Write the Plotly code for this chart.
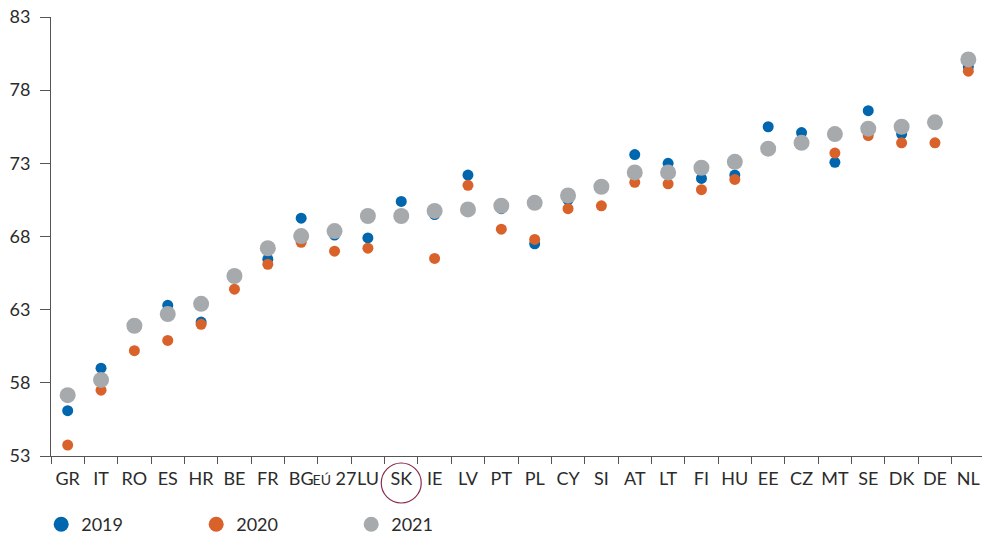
import plotly.graph_objects as go

categories = ["GR", "IT", "RO", "ES", "HR", "BE", "FR", "BG", "EÚ 27", "LU", "SK", "IE", "LV",
              "PT", "PL", "CY", "SI", "AT", "LT", "FI", "HU", "EE", "CZ", "MT", "SE", "DK", "DE", "NL"]
v2019 = [56.1, 59.0, 61.9, 63.3, 62.15, 65.3, 66.45, 69.25, 68.1, 67.9, 70.4, 69.5, 72.2,
         69.9, 67.5, 70.5, 71.4, 73.6, 73.0, 71.97, 72.2, 75.5, 75.1, 73.07, 76.6, 75.0, 75.8, 79.6]
v2020 = [53.75, 57.5, 60.2, 60.9, 62.0, 64.4, 66.1, 67.6, 67.0, 67.2, 69.4, 66.5, 71.5,
         68.5, 67.8, 69.9, 70.1, 71.7, 71.6, 71.2, 71.9, 74.0, 74.4, 73.7, 74.9, 74.4, 74.4, 79.3]
v2021 = [57.16, 58.2, 61.9, 62.7, 63.4, 65.3, 67.2, 68.03, 68.37, 69.4, 69.4, 69.75, 69.85,
         70.1, 70.3, 70.8, 71.4, 72.38, 72.38, 72.7, 73.1, 74.0, 74.4, 75.0, 75.37, 75.5, 75.8, 80.1]
y_ticks = [53, 58, 63, 68, 73, 78, 83]
series_names = ["2019", "2020", "2021"]

FONT = "Lato"
TXT = "#2b2b2b"
COLORS = ["#0066AE", "#D9622B", "#A6AAAD"]
SIZES = [11, 11, 16]

tick_text = [c if c != "EÚ 27" else "<span style='font-size:14px'>EÚ</span> 27" for c in categories]

fig = go.Figure()
for name, vals, col, sz in zip(series_names, [v2019, v2020, v2021], COLORS, SIZES):
    fig.add_trace(go.Scatter(x=categories, y=vals, mode="markers", name=name, showlegend=False,
                             marker=dict(color=col, size=sz, line=dict(width=0))))
# legend entries (uniform legend symbol size as in the reference)
for name, col in zip(series_names, COLORS):
    fig.add_trace(go.Scatter(x=[None], y=[None], mode="markers", name=name, showlegend=True,
                             marker=dict(color=col, size=15, line=dict(width=0))))

# circle around SK label
fig.add_shape(type="circle", xref="x", yref="paper", xsizemode="pixel", ysizemode="pixel",
              xanchor="SK", yanchor=0, x0=-20, x1=20, y0=-7, y1=-47,
              line=dict(color="#8B2A4A", width=1.2))

# page body has an 8px margin; figure sized so the plot lands where the reference has it
fig.update_layout(
    width=982, height=526,
    margin=dict(l=43, r=5, t=9, b=78, autoexpand=False),
    plot_bgcolor="white", paper_bgcolor="white",
    font=dict(family=FONT, size=18, color=TXT),
    showlegend=True,
    legend=dict(orientation="h", x=-0.0105, xanchor="left", y=-0.156, yanchor="middle",
                entrywidth=110, entrywidthmode="pixels", itemsizing="trace",
                font=dict(size=18, color=TXT), bgcolor="rgba(0,0,0,0)"),
    xaxis=dict(type="category", categoryorder="array", categoryarray=categories,
               tickvals=categories, ticktext=tick_text, tickangle=0, automargin=False,
               showline=True, linecolor="#555", linewidth=1,
               ticks="outside", tickson="boundaries", ticklen=7, tickcolor="#555",
               ticklabelstandoff=6, ticklabeloverflow="allow",
               showgrid=False, zeroline=False, range=[-0.5, len(categories) - 0.5],
               tickfont=dict(size=18, color=TXT)),
    yaxis=dict(range=[53, 83], tickvals=y_ticks, showline=True, linecolor="#555", linewidth=1,
               ticks="outside", ticklen=10, tickcolor="#555", showgrid=False, zeroline=False,
               ticklabelstandoff=6, ticklabeloverflow="allow",
               automargin=False, tickfont=dict(size=18, color=TXT)),
)

fig.write_html("out.html")
